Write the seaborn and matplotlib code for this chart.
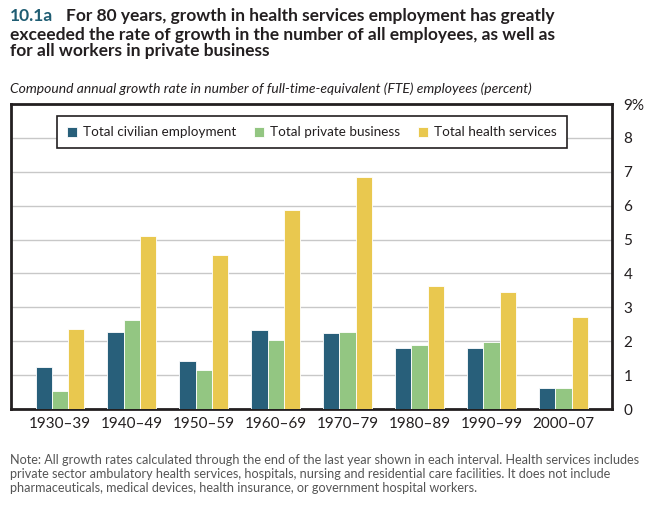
import pandas as pd
import numpy as np
import matplotlib.pyplot as plt
import seaborn as sns

# ── Data ───────────────────────────────────────────────────
periods  = ['1930–39', '1940–49', '1950–59', '1960–69', '1970–79', '1980–89', '1990–99', '2000–07']
civilian = [1.24, 2.26, 1.42, 2.33, 2.25, 1.80, 1.80, 0.62]
private  = [0.54, 2.64, 1.15, 2.05, 2.28, 1.88, 1.99, 0.62]
health   = [2.36, 5.10, 4.56, 5.88, 6.85, 3.64, 3.46, 2.73]
series   = ['Total civilian employment', 'Total private business', 'Total health services']
colors   = ['#285f7a', '#93c682', '#e9c84f']
yticks   = [0, 1, 2, 3, 4, 5, 6, 7, 8, 9]
ylabels  = ['0', '1', '2', '3', '4', '5', '6', '7', '8', '9%']

df = pd.DataFrame({'period': periods * 3,
                   'series': np.repeat(series, len(periods)),
                   'rate':   civilian + private + health})

# ── Plot ───────────────────────────────────────────────────
sns.set_style('white')
plt.rcParams['font.family'] = ['Lato', 'DejaVu Sans']
dark = '#231f20'

fig = plt.figure(figsize=(6.5, 5.05), dpi=100)
ax = fig.add_axes([0.017, 0.19, 0.925, 0.604])

sns.barplot(data=df, x='period', y='rate', hue='series', palette=colors, saturation=1,
            width=0.68, gap=0, edgecolor='white', linewidth=0.6, ax=ax, zorder=3)

ax.set_xlim(-0.68, 7.68)
ax.set_ylim(0, 9)
ax.set_yticks(yticks)
ax.set_yticklabels(ylabels)
ax.yaxis.tick_right()
ax.grid(axis='y', color='#c8c8c8', linewidth=1, zorder=0)
ax.tick_params(axis='both', length=0, labelsize=11, labelcolor=dark, pad=6)
ax.tick_params(axis='y', pad=8)
ax.set_xlabel('')
ax.set_ylabel('')
for s in ax.spines.values():
    s.set_visible(True)
    s.set_color(dark)
    s.set_linewidth(2)

leg = ax.legend(loc='upper center', bbox_to_anchor=(0.5, 0.96), ncol=3, frameon=True,
                fancybox=False, edgecolor=dark, fontsize=9.7, handlelength=0.75,
                handleheight=0.75, handletextpad=0.45, columnspacing=1.3,
                borderpad=0.75, borderaxespad=0, labelcolor=dark, framealpha=1)
leg.get_frame().set_linewidth(1.2)

# ── Text ───────────────────────────────────────────────────
fig.text(0.015, 0.985, '10.1a', color='#1f5d73', fontsize=12.5, fontweight='bold', va='top')
fig.text(0.102, 0.985, 'For 80 years, growth in health services employment has greatly',
         color=dark, fontsize=12.5, fontweight='bold', va='top')
fig.text(0.015, 0.985 - 0.0375, 'exceeded the rate of growth in the number of all employees, as well as\n'
         'for all workers in private business',
         color=dark, fontsize=12.5, fontweight='bold', va='top', linespacing=1.02)
fig.text(0.015, 0.815, 'Compound annual growth rate in number of full-time-equivalent (FTE) employees (percent)',
         color=dark, fontsize=10, style='italic')
fig.text(0.015, 0.022,
         'Note: All growth rates calculated through the end of the last year shown in each interval. Health services includes\n'
         'private sector ambulatory health services, hospitals, nursing and residential care facilities. It does not include\n'
         'pharmaceuticals, medical devices, health insurance, or government hospital workers.',
         color='#555555', fontsize=9.1, va='bottom', linespacing=1.2)

plt.savefig('out.png', dpi=100)
